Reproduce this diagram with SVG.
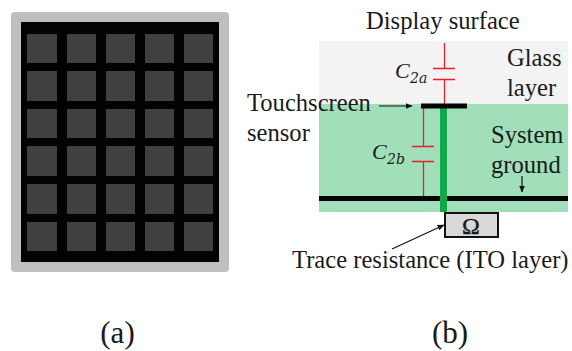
<svg xmlns="http://www.w3.org/2000/svg" width="572" height="351" viewBox="0 0 572 351">
<style>
.t{font-family:"Liberation Serif","Times New Roman",serif;font-size:24.6px;fill:#1a1a1a}
.l{font-size:31px}
.c{font-family:"Liberation Serif",serif;font-style:italic;font-size:22px;fill:#1a1a1a}
.s{font-family:"DejaVu Serif","Liberation Serif",serif;font-style:italic;font-size:14px;fill:#1a1a1a}
.cell{fill:#404040}
.r{stroke:#e8202e;stroke-width:1.3;fill:none}
.k{stroke:#111;stroke-width:1.2;fill:none}
</style>
<defs><marker id="a" markerWidth="7" markerHeight="6" refX="6.5" refY="3" orient="auto" markerUnits="userSpaceOnUse"><path d="M0 0L7 3L0 6z" fill="#111"/></marker></defs>
<rect width="572" height="351" fill="#fff"/>
<g id="panel-a">
<rect x="11" y="12" width="218" height="260" rx="4" fill="#bfbfbf"/>
<rect x="21" y="22" width="198" height="240" fill="#020202"/>
<g id="grid">
<rect class="cell" x="27" y="34" width="30" height="29"/><rect class="cell" x="67" y="34" width="29" height="29"/><rect class="cell" x="106" y="34" width="29" height="29"/><rect class="cell" x="145" y="34" width="29" height="29"/><rect class="cell" x="184" y="34" width="29" height="29"/>
<rect class="cell" x="27" y="71" width="30" height="30"/><rect class="cell" x="67" y="71" width="29" height="30"/><rect class="cell" x="106" y="71" width="29" height="30"/><rect class="cell" x="145" y="71" width="29" height="30"/><rect class="cell" x="184" y="71" width="29" height="30"/>
<rect class="cell" x="27" y="109" width="30" height="29"/><rect class="cell" x="67" y="109" width="29" height="29"/><rect class="cell" x="106" y="109" width="29" height="29"/><rect class="cell" x="145" y="109" width="29" height="29"/><rect class="cell" x="184" y="109" width="29" height="29"/>
<rect class="cell" x="27" y="146" width="30" height="30"/><rect class="cell" x="67" y="146" width="29" height="30"/><rect class="cell" x="106" y="146" width="29" height="30"/><rect class="cell" x="145" y="146" width="29" height="30"/><rect class="cell" x="184" y="146" width="29" height="30"/>
<rect class="cell" x="27" y="184" width="30" height="30"/><rect class="cell" x="67" y="184" width="29" height="30"/><rect class="cell" x="106" y="184" width="29" height="30"/><rect class="cell" x="145" y="184" width="29" height="30"/><rect class="cell" x="184" y="184" width="29" height="30"/>
<rect class="cell" x="27" y="222" width="30" height="29"/><rect class="cell" x="67" y="222" width="29" height="29"/><rect class="cell" x="106" y="222" width="29" height="29"/><rect class="cell" x="145" y="222" width="29" height="29"/><rect class="cell" x="184" y="222" width="29" height="29"/>
</g>
<text class="t l" x="117.500" y="343" text-anchor="middle">(a)</text>
</g>
<g id="panel-b">
<rect x="319" y="41" width="249" height="63" fill="#f3f3f3"/>
<rect x="319" y="104" width="249" height="108" fill="#a0dfba"/>
<text class="t" x="366" y="29">Display surface</text>
<text class="t" x="507" y="66">Glass</text>
<text class="t" x="507" y="96">layer</text>
<text class="t" x="247" y="111">Touchscreen</text>
<text class="t" x="247" y="141">sensor</text>
<text class="t" x="491" y="143">System</text>
<text class="t" x="491" y="173">ground</text>
<text class="t" x="292" y="268">Trace resistance (ITO layer)</text>
<text class="t l" x="450" y="343" text-anchor="middle">(b)</text>
<text class="c" x="395" y="78">C</text><text class="s" x="410" y="83">2a</text>
<text class="c" x="372" y="159">C</text><text class="s" x="387" y="164">2b</text>
</g>
<g id="connectors">
<path class="r" d="M444.500 43V68.500M433 68.500H455M433 79.500H455M444.500 79.500V104"/>
<path class="r" d="M423.500 108V146.500M412 146.500H434M412 161.500H434M423.500 161.500V197"/>
<rect x="440" y="108" width="7" height="104" fill="#10a94a"/>
<rect x="319" y="196" width="121" height="5" fill="#050505"/>
<rect x="447" y="196" width="121" height="5" fill="#050505"/>
<rect x="421" y="103.500" width="46" height="5" fill="#050505"/>
<path class="k" d="M379 106H412" marker-end="url(#a)"/>
<path class="k" d="M522 176V192" marker-end="url(#a)"/>
<path class="k" d="M392 249L444 225" marker-end="url(#a)"/>
</g>
<g id="resistor">
<rect x="445" y="213" width="53" height="24" fill="#d9d9d9" stroke="#111" stroke-width="2"/>
<text class="t" x="471" y="234" text-anchor="middle" style="font-size:24px;stroke:#1a1a1a;stroke-width:.4">Ω</text>
</g>
</svg>
